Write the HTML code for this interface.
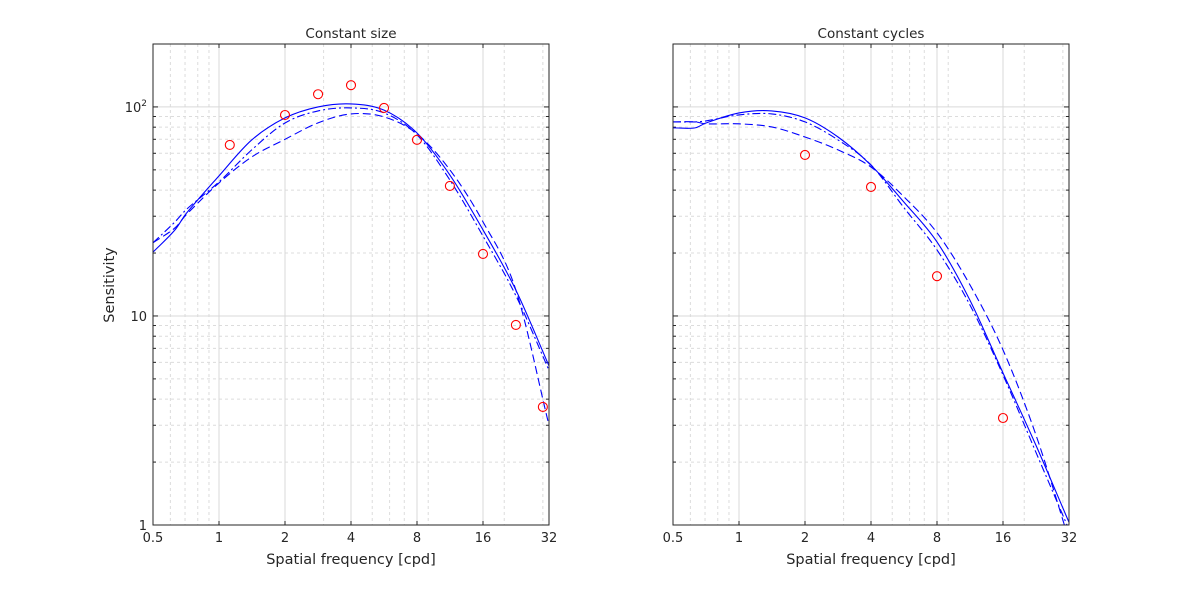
<!DOCTYPE html>
<html><head><meta charset="utf-8"><style>
body{margin:0;background:#fff;}
svg text{font-family:"DejaVu Sans","Liberation Sans",sans-serif;fill:#262626;}
</style></head><body>
<svg id="c" width="1181" height="591" xmlns="http://www.w3.org/2000/svg"></svg>
<script>
const freqs=[0.5,0.63,0.707,1,1.41,2,2.83,4,5.66,8,11.3,16,22.6,32];
const leftSolid=[20.2,25.8,30.8,46.8,69.5,88.6,100,103.4,96.5,75.0,47.2,25.8,13.3,5.77];
const leftDashDot=[22.4,28.2,32.2,43.8,62.3,83.8,95.7,98.9,93.6,73.5,44.7,24.1,12.5,5.5];
const leftDashed=[22.4,26.4,30.4,43.3,57.6,70.0,83.9,92.6,89.6,74.3,50.0,28.2,13.3,3.0];
const rightSolid=[79.4,79.4,83.8,93.6,95.7,88.6,71.8,52.6,35.0,22.6,11.9,5.34,2.41,1.03];
const rightDashDot=[84.8,84.8,85.7,91.6,92.6,84.8,69.5,52.8,32.9,20.7,11.3,5.22,2.23,0.95];
const rightDashed=[84.8,84.8,83.0,83.0,80.2,71.8,62.3,51.6,37.1,25.0,14.1,6.88,2.70,0.85];
const leftDataX=[1.12,2,2.83,4,5.66,8,11.3,16,22.6,30];
const leftDataY=[65.8,91.5,115,127,98.9,69.6,41.9,19.8,9.06,3.67];
const rightDataX=[2,4,8,16];
const rightDataY=[58.9,41.4,15.5,3.25];
const xTicks=[0.5,1,2,4,8,16,32];
const xTickLabels=["0.5","1","2","4","8","16","32"];
const yTicks=[1,10,100];
const yTickLabels=["1","10","10"];

const NS="http://www.w3.org/2000/svg";
const svg=document.getElementById('c');
function mk(t,a,p){const e=document.createElementNS(NS,t);for(const k in a)e.setAttribute(k,a[k]);(p||svg).appendChild(e);return e;}
const T=44,B=525;
function yS(v){return B-Math.log10(v)*(B-T)/Math.log10(200);}
function panel(x0,name,title,series,dx,dy,showY){
  const x1=x0+396;
  const xS=v=>x0+Math.log2(v/0.5)*(396/6);
  const g=mk('g',{});
  
  
  const minorX=[];
  for(const dec of [0.1,1,10]){for(let m=2;m<10;m++){const v=m*dec;if(v>0.5&&v<32&&!xTicks.includes(v))minorX.push(v);}}
  minorX.forEach(v=>mk('line',{x1:xS(v),x2:xS(v),y1:T,y2:B,stroke:'#dcdcdc','stroke-dasharray':'3,3','stroke-width':1},g));
  for(const dec of [1,10,100]){for(let m=2;m<10;m++){const v=m*dec;if(v<200)mk('line',{x1:x0,x2:x1,y1:yS(v),y2:yS(v),stroke:'#dcdcdc','stroke-dasharray':'3,3','stroke-width':1},g);}}
  xTicks.forEach(v=>mk('line',{x1:xS(v),x2:xS(v),y1:T,y2:B,stroke:'#d9d9d9','stroke-width':1},g));
  yTicks.forEach(v=>mk('line',{x1:x0,x2:x1,y1:yS(v),y2:yS(v),stroke:'#d9d9d9','stroke-width':1},g));
  xTicks.forEach(v=>{mk('line',{x1:xS(v),x2:xS(v),y1:B,y2:B-4,stroke:'#262626'},g);mk('line',{x1:xS(v),x2:xS(v),y1:T,y2:T+4,stroke:'#262626'},g);});
  for(const dec of [1,10,100]){for(let m=1;m<10;m++){const v=m*dec;if(v<=200){const l=m==1?5:3;mk('line',{x1:x0,x2:x0+l,y1:yS(v),y2:yS(v),stroke:'#262626'},g);mk('line',{x1:x1,x2:x1-l,y1:yS(v),y2:yS(v),stroke:'#262626'},g);}}}
  xTicks.forEach((v,i)=>{const t=mk('text',{x:xS(v),y:B+17,'text-anchor':'middle','font-size':13},g);t.textContent=xTickLabels[i];
    
    });
  if(showY)yTicks.forEach((v,i)=>{const t=mk('text',{x:x0-6,y:yS(v)+5,'text-anchor':'end','font-size':13},g);
    t.textContent=yTickLabels[i];
    if(v===100){const s=mk('tspan',{dy:-6,'font-size':9},t);s.textContent='2';}
    
    });
  const cid='clip'+x0;
  const cp=mk('clipPath',{id:cid},g);mk('rect',{x:x0,y:T,width:396,height:B-T},cp);
  const cg=mk('g',{'clip-path':'url(#'+cid+')'},g);
  series.forEach(s=>{
    const px=freqs.map(f=>xS(f)),py=s.vals.map(v=>yS(v));
    const n=px.length,m=[];
    for(let i=0;i<n;i++){
      if(i===0)m.push((py[1]-py[0])/(px[1]-px[0]));
      else if(i===n-1)m.push((py[n-1]-py[n-2])/(px[n-1]-px[n-2]));
      else m.push((py[i+1]-py[i-1])/(px[i+1]-px[i-1]));
    }
    let d='M'+px[0]+','+py[0];
    for(let i=0;i<n-1;i++){
      const h=(px[i+1]-px[i])/3;
      d+=' C'+(px[i]+h)+','+(py[i]+m[i]*h)+' '+(px[i+1]-h)+','+(py[i+1]-m[i+1]*h)+' '+px[i+1]+','+py[i+1];
    }
    const p=mk('path',{d:d,fill:'none',stroke:'#0000ff','stroke-width':1.1,'stroke-dasharray':s.dash},cg);
    
    
  });
  dx.forEach((v,i)=>{const c=mk('circle',{cx:xS(v),cy:yS(dy[i]),r:4.5,fill:'none',stroke:'#ff0000','stroke-width':1.1},g);
    
    });
  mk('rect',{x:x0,y:T,width:396,height:B-T,fill:'none',stroke:'#262626','stroke-width':1},g);
  const tt=mk('text',{x:x0+198,y:38,'text-anchor':'middle','font-size':13.5},g);tt.textContent=title;
  
  
  const xl=mk('text',{x:x0+198,y:564,'text-anchor':'middle','font-size':14.5},g);xl.textContent='Spatial frequency [cpd]';
  
  
}
panel(153,'left-panel','Constant size',[{vals:leftSolid,dash:'none',name:'solid-line'},{vals:leftDashDot,dash:'8,3,2,3',name:'dash-dot-line'},{vals:leftDashed,dash:'8,4',name:'dashed-line'}],leftDataX,leftDataY,true);
panel(673,'right-panel','Constant cycles',[{vals:rightSolid,dash:'none',name:'solid-line'},{vals:rightDashDot,dash:'8,3,2,3',name:'dash-dot-line'},{vals:rightDashed,dash:'8,4',name:'dashed-line'}],rightDataX,rightDataY,false);
const yl=mk('text',{x:0,y:0,'text-anchor':'middle','font-size':14.5,transform:'translate(114,285) rotate(-90)'});
yl.textContent='Sensitivity';


</script>
</body></html>
